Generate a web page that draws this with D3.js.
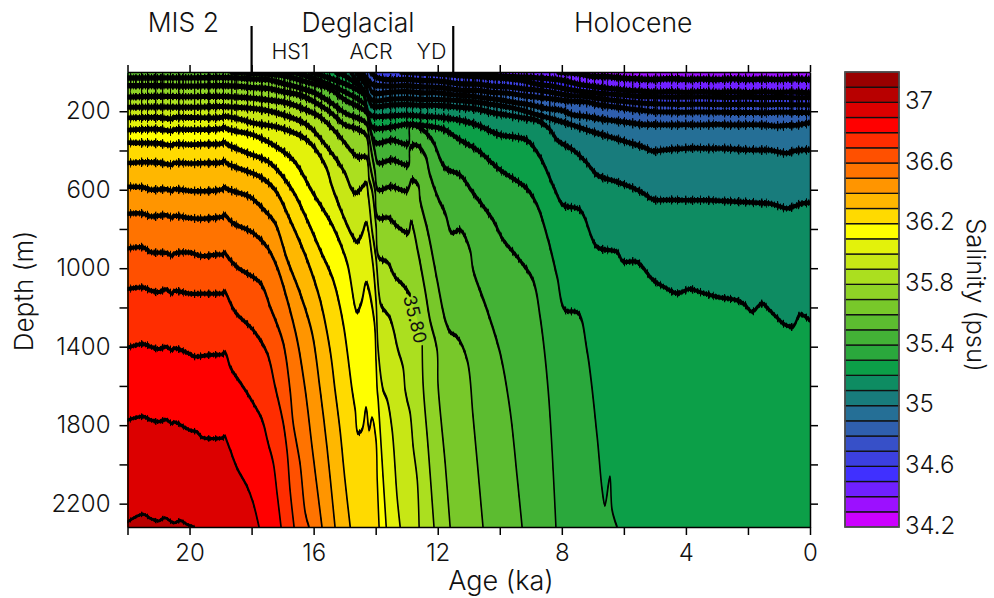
<!DOCTYPE html>
<html>
<head>
<meta charset="utf-8">
<script src="https://cdn.jsdelivr.net/npm/d3@7"></script>
<style>
  body { margin: 0; background: #fff; }
  text { font-family: Inter, "Liberation Sans", sans-serif; font-weight: 300; fill: #111; }
</style>
</head>
<body>
<script>
// Contour lines: [age ka, depth m]
const s34_4 = [[8.15,0],[7.5,8],[7.09,20],[6.5,24],[6,32],[5.48,36],[5,38],[4.5,34],[4,38],[3.5,36],[3,38],[2.5,35],[2,38],[1.5,36],[1,38],[0.5,35],[0,38]];
const s34_5 = [[11.92,0],[11,5],[10.63,12],[10,20],[9.2,26],[8.8,30],[8,42],[7.5,62],[7.09,72],[6.5,84],[6,92],[5.48,98],[5,102],[4.5,100],[4,104],[3.5,100],[3,104],[2.5,101],[2,105],[1.5,101],[1,104],[0.5,102],[0,106]];
const s34_6 = [[13.21,0],[12.25,8],[11.28,18],[10.25,28],[9.25,44],[8.8,62],[8.25,74],[7.75,90],[7.09,104],[6.5,112],[6,118],[5.48,124],[5,126],[4.5,128],[4,128],[3.5,126],[3,128],[2.5,129],[2,128],[1.5,130],[1,129],[0.5,131],[0,130]];
const s34_7 = [[14.18,0],[13.92,31],[13.5,40],[13,38],[12.5,44],[12,46],[11.28,60],[10.75,62],[10.25,72],[9.75,76],[9.25,86],[8.8,92],[8.25,106],[7.75,120],[7.25,124],[6.77,136],[6.25,146],[5.75,154],[5.48,158],[5,162],[4.5,164],[4,165],[3.5,164],[3,166],[2.5,166],[2,165],[1.5,167],[1,166],[0.5,167],[0,168]];
const s34_8 = [[14.44,0],[14.18,51],[14.08,66],[13.5,72],[13,70],[12.5,76],[12,78],[11.28,92],[10.75,94],[10.25,104],[9.75,108],[9.25,120],[8.8,128],[8.25,138],[7.75,148],[7.25,152],[6.77,168],[6.25,178],[5.75,190],[5.48,194],[5,202],[4.5,204],[4,205],[3.5,204],[3,205],[2.5,206],[2,206],[1.5,207],[1,205],[0.5,206],[0,207]];
const s34_9 = [[14.57,0],[14.24,66],[14.08,107],[13.5,102],[13,100],[12.5,106],[12,106],[11.5,116],[11,122],[10.5,132],[10,142],[9.5,156],[9,168],[8.5,186],[8,196],[7.64,219],[7.25,226],[6.75,240],[6.25,250],[5.75,260],[5.38,268],[5,268],[4.5,270],[4,268],[3.5,270],[3,267],[2.5,270],[2,268],[1.5,270],[1,276],[0.75,272],[0.5,272],[0,258]];
const s35_0 = [[14.66,0],[14.34,66],[14.12,143],[13.5,138],[13,136],[12.5,140],[12,140],[11.28,146],[10.75,154],[10.25,166],[9.75,178],[9.25,196],[8.8,218],[8.25,242],[7.75,266],[7.19,296],[6.45,331],[5.9,357],[5.38,382],[5.06,404],[4.75,398],[4.25,392],[3.77,388],[3.25,390],[2.75,390],[2.16,396],[1.6,398],[1.3,398],[1,408],[0.74,414],[0.5,402],[0,396]];
const s35_1 = [[14.82,0],[14.5,66],[14.28,117],[14.12,173],[13.5,168],[13,166],[12.5,170],[12,170],[11.28,180],[10.75,188],[10.22,208],[9.75,220],[9.25,234],[8.8,246],[8.4,290],[8.15,347],[7.64,397],[7.19,464],[6.86,525],[6.22,560],[5.75,588],[5.38,617],[5.06,650],[4.5,652],[3.96,654],[3.25,654],[2.75,658],[2.16,662],[1.6,668],[1.3,670],[1,684],[0.74,696],[0.5,684],[0.25,670],[0,666]];
const s35_2 = [[15.31,0],[14.99,20],[14.44,92],[14.34,158],[14.24,204],[14.12,224],[13.5,224],[13,220],[12.5,226],[12,230],[11.28,246],[10.73,270],[9.99,321],[9.5,332],[9.12,348],[8.7,433],[8.22,601],[7.96,678],[7.41,703],[6.86,892],[6.22,917],[6.03,966],[5.58,968],[5.06,1060],[4.7,1096],[4.29,1128],[3.87,1106],[3.5,1124],[3,1146],[2.35,1164],[2.1,1186],[1.87,1222],[1.55,1180],[1.3,1215],[1,1262],[0.87,1282],[0.55,1298],[0.32,1236],[0,1266]];
const s35_3 = [[16.11,0],[14.99,61],[14.37,117],[14.28,194],[14.18,255],[14.08,285],[13.47,280],[13,266],[12.5,272],[12,284],[11.76,296],[11.28,347],[10.73,397],[9.99,499],[9.35,566],[9.09,601],[8.77,688],[8.44,856],[8.15,1045],[7.9,1213],[7.48,1228],[7.19,1417],[6.86,1860],[6.7,2130],[6.61,2207],[6.45,2064],[6.38,2232],[6.22,2319]];
const s35_4 = [[17.08,0],[16.44,10],[14.99,102],[14.34,168],[14.24,234],[14.15,306],[13.99,362],[13.47,347],[12.95,367],[12.89,270],[12.57,285],[12.18,347],[11.76,489],[11.28,525],[10.86,617],[10.22,754],[9.89,856],[9.41,948],[8.93,1060],[8.7,1248],[8.44,1621],[8.19,2319]];
const s35_5 = [[18.69,0],[17.95,8],[17,18],[16.44,41],[16,60],[15.5,84],[14.99,143],[14.31,204],[14.21,265],[14.12,336],[14.02,408],[13.92,464],[13.47,448],[12.95,474],[12.89,387],[12.7,372],[12.41,423],[12.25,525],[11.99,642],[11.76,719],[11.54,820],[11.28,805],[10.96,907],[10.86,1009],[10.41,1213],[9.99,1432],[9.67,1722],[9.44,2064],[9.28,2319]];
const s35_6 = [[22,31],[21,30],[20,30],[19,28],[18.5,30],[17.95,36],[17.5,38],[17,58],[16.44,82],[16,104],[15.5,150],[14.99,209],[14.31,260],[14.21,336],[14.12,423],[14.02,510],[13.92,601],[13.5,584],[13,606],[12.83,550],[12.63,576],[12.57,652],[12.31,820],[12.02,1060],[11.76,1264],[11.6,1325],[11.38,1350],[11.05,1468],[10.86,1758],[10.54,2319]];
const s35_7 = [[22,70],[21,70],[20,72],[19,70],[18.5,72],[17.95,80],[17.5,84],[17,100],[16.44,118],[16,150],[15.47,204],[14.99,270],[14.66,286],[14.31,321],[14.21,448],[14.12,525],[14.02,601],[13.92,744],[13.6,742],[13.28,790],[12.95,820],[12.86,764],[12.63,922],[12.41,1111],[12.25,1264],[12.02,1417],[11.99,1595],[11.76,1993],[11.6,2319]];
const s35_8 = [[22,128],[21,124],[20,126],[19,124],[18.5,128],[17.95,134],[17.5,142],[16.85,158],[16.3,190],[15.79,229],[15.15,331],[14.99,362],[14.75,410],[14.57,433],[14.31,433],[14.21,550],[14.12,601],[13.99,780],[13.89,948],[13.63,968],[13.37,1045],[13.12,1085],[12.89,1136],null,[12.5,1401],[12.47,1595],[12.31,1911],[12.12,2319]];
const s35_9 = [[22,180],[21,178],[20,180],[19,176],[18.5,180],[17.95,186],[17.18,209],[16.21,270],[15.57,382],[14.99,515],[14.8,590],[14.66,617],[14.5,600],[14.31,566],[14.24,627],[14.12,805],[13.99,948],[13.89,1136],[13.82,1192],[13.54,1254],[13.28,1417],[13.12,1503],[13.05,1621],[12.99,1671],[12.89,1738],[12.79,1911],[12.66,2079],[12.6,2319]];
const s36_0 = [[22,234],[21,232],[20.56,238],[20.5,232],[20,232],[19,232],[18.86,226],[18.3,244],[17.95,260],[17.08,285],[16.21,347],[15.63,474],[15.37,601],[14.73,841],[14.6,866],[14.45,830],[14.31,770],[14.12,940],[13.99,1162],[13.92,1417],[13.76,1621],[13.63,1671],[13.47,1824],[13.31,2166],[13.21,2319]];
const s36_1 = [[22,296],[21,292],[20.56,300],[20.5,294],[20,294],[19,290],[18.86,282],[18.8,290],[18.3,308],[17.95,321],[17.4,362],[16.66,448],[16.02,617],[15.37,790],[14.92,973],[14.6,1223],[14.45,1170],[14.31,1075],[14.05,1264],[13.99,1468],[13.95,1621],[13.92,1671],[13.79,1993],[13.66,2319]];
const s36_2 = [[22,360],[21.5,362],[21,364],[20.56,374],[20.5,368],[20,370],[19.5,368],[19,366],[18.86,358],[18.8,368],[18.14,413],[17.4,464],[16.69,601],[16.21,754],[15.79,907],[15.37,1060],[15.05,1279],[14.76,1621],[14.66,1722],[14.57,1840],[14.44,1824],[14.31,1712],[14.21,1824],[14.12,1763],[13.99,1875],[13.95,2079],[13.89,2319]];
const s36_3 = [[22,464],[21.5,460],[21,462],[20.56,472],[20.5,464],[20,466],[19.5,464],[19,462],[18.86,454],[18.8,466],[18.47,488],[17.72,535],[17.24,601],[16.76,754],[16.21,958],[15.79,1162],[15.47,1417],[15.31,1621],[15.15,1824],[14.99,2079],[14.82,2319]];
const s36_4 = [[22,585],[21.5,588],[21.25,600],[20.75,598],[20.56,606],[20.5,598],[20,606],[19.65,608],[19.15,604],[18.92,596],[18.86,586],[18.8,596],[18.5,612],[18.05,637],[17.5,719],[17.24,770],[16.85,958],[16.44,1126],[16.05,1330],[15.79,1621],[15.57,1911],[15.31,2319]];
const s36_5 = [[22,722],[21.5,722],[21.25,736],[20.75,730],[20.56,742],[20.5,734],[20,744],[19.6,748],[19.1,742],[18.92,736],[18.86,726],[18.8,738],[18.6,770],[17.95,820],[17.5,892],[17.18,994],[16.85,1162],[16.53,1366],[16.27,1621],[16.05,1911],[15.73,2319]];
const s36_6 = [[22,900],[21.5,894],[21.25,918],[20.75,922],[20.56,936],[20.5,926],[20,920],[19.6,938],[19.1,930],[18.92,930],[18.86,920],[18.8,936],[18.47,994],[17.72,1075],[17.4,1198],[16.98,1381],[16.76,1621],[16.66,1789],[16.44,1993],[16.27,2247],[16.15,2319]];
const s36_7 = [[22,1106],[21.5,1098],[21.25,1114],[21,1122],[20.75,1108],[20.56,1130],[20.5,1116],[20,1130],[19.6,1130],[19.1,1130],[18.92,1128],[18.86,1118],[18.8,1136],[18.53,1223],[17.95,1315],[17.5,1432],[17.24,1605],[16.98,1789],[16.85,1942],[16.76,2130],[16.63,2319]];
const s36_8 = [[22,1405],[21.5,1386],[21.25,1400],[21,1412],[20.75,1400],[20.56,1418],[20.5,1408],[20,1436],[19.85,1450],[19.35,1442],[18.92,1438],[18.86,1428],[18.8,1446],[18.69,1503],[18.27,1605],[17.95,1687],[17.66,1773],[17.47,1890],[17.3,1993],[17.18,2145],[17.05,2319]];
const s36_9 = [[22,1775],[21.5,1756],[21.25,1774],[21,1782],[20.75,1772],[20.56,1792],[20.5,1784],[20,1825],[19.75,1836],[19.6,1862],[19.1,1868],[18.92,1864],[18.86,1856],[18.8,1880],[18.69,1926],[18.47,2018],[18.14,2115],[17.95,2196],[17.76,2319]];
const s37_0 = [[22,2293],[21.5,2254],[21.25,2276],[21,2288],[20.8,2272],[20.5,2298],[20.3,2286],[20.1,2304],[19.85,2319]];

const contourLevels = [34.4,34.5,34.6,34.7,34.8,34.9,35.0,35.1,35.2,35.3,35.4,35.5,35.6,35.7,35.8,35.9,36.0,36.1,36.2,36.3,36.4,36.5,36.6,36.7,36.8,36.9,37.0];
const contourLines = [s34_4,s34_5,s34_6,s34_7,s34_8,s34_9,s35_0,s35_1,s35_2,s35_3,s35_4,s35_5,s35_6,s35_7,s35_8,s35_9,s36_0,s36_1,s36_2,s36_3,s36_4,s36_5,s36_6,s36_7,s36_8,s36_9,s37_0];

// One colour per 0.1 psu band, 34.2 upward
const bandEdges = d3.range(34.2, 37.2, 0.1).map(d => +d.toFixed(1));
const bandColors = ['#cc00ff','#9c10ff','#7020ff','#4030ff','#3c40e0','#3750c8','#2f5fae','#256f96','#187c7c','#0e8c62','#0c9f48','#2aa83c','#43b236','#5cbc30','#78c82a','#8fd326','#abdf1f','#c7e715','#e3f20b','#ffff00','#ffda00','#ffb700','#ff9500','#ff7300','#ff5000','#ff2d00','#ff0000','#dc0000','#b80000','#990000'];

const ageTicks = [22,20,18,16,14,12,10,8,6,4,2,0];
const ageLabels = [20,16,12,8,4,0];
const depthTicks = [200,400,600,800,1000,1200,1400,1600,1800,2000,2200];
const depthLabels = [200,600,1000,1400,1800,2200];
const salinityLabels = [34.2,34.6,35,35.4,35.8,36.2,36.6,37];
const periodEdges = [18, 11.5];
const periods = [['MIS 2',20.2],['Deglacial',14.57],['Holocene',5.7]];
const events = [['HS1',16.75],['ACR',14.15],['YD',12.2]];

let width = 994, height = 598;
let margin = {top: 72, bottom: 71, left: 127.5, right: 184};
const maxDepth = 2319, barLeft = 845, barRight = 899;

let svg = d3.select('body').append('svg')
    .attr('width', width)
    .attr('height', height)
    .style('display', 'block');

let xScale = d3.scaleLinear().domain([22, 0]).range([margin.left, width - margin.right]);
let yScale = d3.scaleLinear().domain([0, maxDepth]).range([margin.top, height - margin.bottom]);
let salScale = d3.scaleLinear().domain([34.2, 37.2]).range([height - margin.bottom, margin.top]);
const colorOf = level => bandColors[Math.round((level - 34.2) * 10)];

// Vertical hairs: the ink of the noisy contours
let defs = svg.append('defs');
function hairPattern(id, tile, bars) {
    let p = defs.append('pattern').attr('id', id)
        .attr('patternUnits', 'userSpaceOnUse')
        .attr('width', tile).attr('height', 20);
    bars.forEach(b => {
        p.append('rect').attr('x', b[0]).attr('y', 0)
            .attr('width', b[1]).attr('height', 20).attr('fill', '#000');
    });
}
hairPattern('hair-sparse', 53, [[3,1.2],[11,1],[19,1.4],[24,0.8],[35,1.2],[41,1],[49,1.4]]);
hairPattern('hair-dense', 37, [[0,1.4],[3,1],[5.5,1.6],[9,1],[12,1.8],[15.5,1],[19,1.4],[22,0.8],[24,1.8],[28,1],[31,1.4],[34,1]]);

defs.append('clipPath').attr('id', 'plot-clip').append('rect')
    .attr('x', margin.left).attr('y', margin.top)
    .attr('width', xScale(0) - margin.left).attr('height', yScale(maxDepth) - margin.top);

let plot = svg.append('g').attr('clip-path', 'url(#plot-clip)');

// Filled bands, painted low to high: each fill is everything saltier than its level
plot.append('rect')
    .attr('x', margin.left).attr('y', margin.top)
    .attr('width', xScale(0) - margin.left).attr('height', yScale(maxDepth) - margin.top)
    .attr('fill', colorOf(34.3));

const smooth = d3.curveCatmullRom.alpha(0.5);
const toPath = d3.line().curve(smooth).x(d => xScale(d[0])).y(d => yScale(d[1]));

contourLines.forEach((line, i) => {
    let pts = line.filter(d => d);
    let last = pts[pts.length - 1];
    let d = toPath(pts);
    if (last[0] === 0) d += `L${xScale(0)},${yScale(maxDepth)}`;
    d += `L${margin.left},${yScale(maxDepth)}`;
    if (pts[0][1] === 0) d += `L${margin.left},${margin.top}`;
    plot.append('path').attr('d', d + 'Z').attr('fill', colorOf(contourLevels[i]));
});

// The contours jitter in depth only, so they get thick where flat and stay thin where steep
function depthBand(thick) {
    return d3.area().curve(smooth)
        .defined(d => d)
        .x(d => xScale(d[0]))
        .y0(d => yScale(d[1]) - thick(d[1]))
        .y1(d => yScale(d[1]) + thick(d[1]));
}
const outerBand = depthBand(d3.scaleLinear().domain([0, 300, 1300, 2319]).range([6, 5, 4, 2.6]));
const midBand = depthBand(d3.scaleLinear().domain([0, 300, 1300, 2319]).range([4, 3.4, 2.8, 1.8]));
const coreBand = depthBand(d3.scaleLinear().domain([0, 300, 1300, 2319]).range([2, 1.6, 1.3, 0.7]));

contourLines.forEach(line => {
    plot.append('path').attr('d', outerBand(line)).attr('fill', 'url(#hair-sparse)');
    plot.append('path').attr('d', midBand(line)).attr('fill', 'url(#hair-dense)');
    plot.append('path')
        .attr('d', coreBand(line))
        .attr('fill', '#000')
        .attr('stroke', '#000')
        .attr('stroke-width', 1.5)
        .attr('stroke-linejoin', 'round');
});

// Inline contour label
svg.append('text')
    .attr('transform', `translate(${xScale(12.73)},${yScale(1260)}) rotate(76)`)
    .attr('text-anchor', 'middle')
    .attr('dy', '0.35em')
    .style('font-size', '18px')
    .style('font-weight', 400)
    .text('35.80');

// Axes
function styleAxis(g) {
    g.selectAll('path').attr('stroke', '#000').attr('stroke-width', 1.5);
    g.selectAll('line').attr('stroke', '#000').attr('stroke-width', 1.5);
    g.selectAll('text').style('font-size', '24px').attr('fill', '#111');
}

svg.append('g')
    .attr('transform', `translate(0,${height - margin.bottom})`)
    .call(d3.axisBottom(xScale).tickValues(ageTicks).tickSize(8).tickSizeOuter(0).tickPadding(9)
        .tickFormat(d => ageLabels.includes(d) ? d : ''))
    .call(styleAxis);
svg.append('g')
    .attr('transform', `translate(0,${margin.top})`)
    .call(d3.axisTop(xScale).tickValues(ageTicks).tickSize(7).tickSizeOuter(0).tickFormat(''))
    .call(styleAxis);
svg.append('g')
    .attr('transform', `translate(${margin.left},0)`)
    .call(d3.axisLeft(yScale).tickValues(depthTicks).tickSize(8).tickSizeOuter(0).tickPadding(9)
        .tickFormat(d => depthLabels.includes(d) ? d : ''))
    .call(styleAxis);
svg.append('g')
    .attr('transform', `translate(${xScale(0)},0)`)
    .call(d3.axisRight(yScale).tickValues(depthTicks).tickSize(8).tickSizeOuter(0).tickFormat(''))
    .call(styleAxis);

svg.append('text').attr('x', 501).attr('y', 590).attr('text-anchor', 'middle')
    .style('font-size', '27px').text('Age (ka)');
svg.append('text').attr('transform', 'translate(33,291) rotate(-90)').attr('text-anchor', 'middle')
    .style('font-size', '26px').text('Depth (m)');

// Period dividers and labels above the frame
periodEdges.forEach(a => {
    svg.append('line')
        .attr('x1', xScale(a)).attr('x2', xScale(a))
        .attr('y1', 26).attr('y2', margin.top)
        .attr('stroke', '#000').attr('stroke-width', 2.2);
});
periods.forEach(d => {
    svg.append('text').attr('x', xScale(d[1])).attr('y', 32).attr('text-anchor', 'middle')
        .style('font-size', '26.5px').text(d[0]);
});
events.forEach(d => {
    svg.append('text').attr('x', xScale(d[1])).attr('y', 59).attr('text-anchor', 'middle')
        .style('font-size', '21.5px').text(d[0]);
});

// Colour bar
let bar = svg.append('g');
bar.selectAll('rect')
    .data(bandEdges)
    .enter()
    .append('rect')
    .attr('x', barLeft)
    .attr('width', barRight - barLeft)
    .attr('y', d => salScale(d + 0.1))
    .attr('height', d => salScale(d) - salScale(d + 0.1))
    .attr('fill', d => colorOf(d))
    .attr('stroke', '#111')
    .attr('stroke-width', 1.3);
bar.append('rect')
    .attr('x', barLeft).attr('y', margin.top)
    .attr('width', barRight - barLeft).attr('height', yScale(maxDepth) - margin.top)
    .attr('fill', 'none').attr('stroke', '#555').attr('stroke-width', 1.5);
bar.selectAll('text')
    .data(salinityLabels)
    .enter()
    .append('text')
    .attr('x', 905)
    .attr('y', d => salScale(d) - 1)
    .attr('dy', '0.32em')
    .style('font-size', '24px')
    .text(d => d);
svg.append('text').attr('transform', 'translate(967,295) rotate(90)').attr('text-anchor', 'middle')
    .style('font-size', '25.5px').text('Salinity (psu)');
</script>
</body>
</html>
